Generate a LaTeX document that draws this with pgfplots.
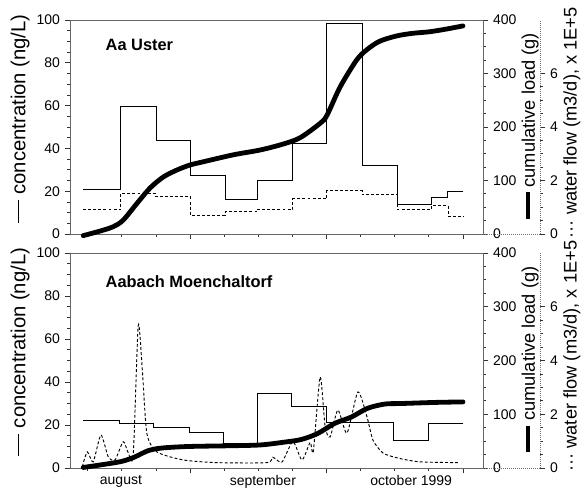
\documentclass[border=0pt]{standalone}
\usepackage{pgfplots}
\usepackage{pgfplotstable}
\pgfplotsset{compat=1.18}
\usepackage{fontspec}
\setmainfont{Liberation Sans}

% x = day counted from 1 August 1999
\pgfplotstableread{
day conc
7.5  21
15.8 59.5
23.6 43.5
31   27.5
38.7 16
45.9 25
53.6 42.5
61   98.5
68.8 32
76.5 13.6
84   17
87.7 20
91   20
}\usterconc

\pgfplotstableread{
day flow
7.5  0.9
15.8 1.52
23.4 1.4
31   0.71
38.7 0.83
45.9 0.92
53.6 1.31
61   1.62
68.8 1.46
76.5 0.9
84   1.05
87.7 0.65
91   0.65
}\usterflow

\pgfplotstableread{
day load
7.5  -3
11   5
14.1 13.6
16.3 26
19.4 58
22.2 86
25.1 106.5
28.1 119.6
31   129
33.9 135
40.5 148
46.4 157
51.4 168
55.2 180
59.6 207
61.1 222
64   275
67.6 325
69.8 344
72.6 360
76.3 370
79.8 375
83.6 378
87.3 383
91   389
}\usterload

\pgfplotstableread{
day conc
7.5  22
15.5 20.8
23   18.8
30.8 16.4
38.3 11.2
45.9 34.7
53.4 28.5
60.9 21
75.8 13
83.5 20.8
91   20.8
}\aabachconc

\pgfplotstableread{
day flow
7.3  0.05
8.4  0.6
9.7  0.23
11.4 1.23
13   0.42
14.5 0.3
16.3 0.98
17.4 0.57
18.5 0.48
19.6 5.3
20.5 3.65
21.5 1.29
23.7 0.6
29.5 0.3
37   0.2
47.9 0.2
49.2 0.4
51.2 0.22
53.6 0.98
55.6 0.3
57.4 0.95
58.1 0.62
59.6 3.39
60.7 1.53
61.8 1.16
63.5 2.16
65.5 1.3
67.9 2.83
69.9 1.9
71.2 1.04
73.4 0.56
76.7 0.37
81.5 0.23
89.9 0.2
}\aabachflow

\pgfplotstableread{
day load
7.5  1
11.5 6
15.8 12
18.7 20
21.7 32
24.6 37
30.5 40
40.6 41.5
46.6 43
51.6 48
55.4 53
59   64
62.8 83
66.5 95
70   111
73.8 119
77.5 120
84.8 122
91   123
}\aabachload

\pgfplotsset{
  panel/.style={
    scale only axis, width=309.75pt,
    xmin=4.6, xmax=95.4,
    /pgf/number format/assume math mode=true,
    tick label style={font=\fontsize{10.5}{12}\selectfont},
    label style={font=\fontsize{13.7}{16}\selectfont},
    tick align=outside,
    major tick length=4pt, minor tick length=2pt,
    axis line style={black!60, line width=0.5pt},
    tick style={black!80, line width=0.6pt},
  },
  concaxis/.style={panel,
    ymin=0, ymax=100, ytick={0,20,...,100}, minor y tick num=3,
    xtick={31,61,91}, xticklabels={,,},
    minor xtick={8.5,16,23.5,38.5,46,53.5,68.5,76,83.5},
    xtick pos=left, ytick pos=left,
    ylabel={\rule[0.3em]{1.1em}{0.7pt}\ concentration (ng/L)},
    ylabel style={at={(axis description cs:-0.121,0.54)}, anchor=center,
      font=\fontsize{15.2}{17}\selectfont},
  },
  loadaxis/.style={panel, clip=false,
    ymin=0, ymax=400, ytick={0,100,...,400}, minor y tick num=3,
    axis y line*=right, axis x line=none,
    ylabel={\rule[0.25em]{1.45em}{3pt}\ cumulative load (g)},
    ylabel style={at={(axis description cs:1.114,0.505)}, anchor=center},
  },
  flowdata/.style={panel, ymin=0, ymax=8, hide axis},
  flowaxis/.style={panel, width=42.75pt, xmin=0, xmax=1, ymin=0, ymax=8,
    axis y line*=right, axis x line*=bottom, xtick=\empty,
    ytick={0,2,4,6}, minor y tick num=3,
    axis line style={black!55, densely dotted, line width=0.5pt},
    ylabel={···\ water flow (m3/d), x 1E+5},
    ylabel style={at={(axis description cs:1.561,0.52)}, anchor=center},
  },
  conc/.style={black, line width=0.75pt, const plot},
  flow/.style={black, line width=0.7pt, dash pattern=on 2.2pt off 1.6pt},
  load/.style={black, line width=3.6pt, line cap=round, smooth, tension=0.5},
}

\begin{document}
\begin{tikzpicture}
\path[use as bounding box] (0,0) rectangle (436.5pt,-365.25pt);

% ---- top panel: Aa Uster
\begin{axis}[concaxis, height=160.5pt, at={(52.5pt,-175.5pt)}, anchor=south west]
  \addplot[conc] table[x=day, y=conc] {\usterconc};
  \node[anchor=west, font=\bfseries\fontsize{12.3}{14}\selectfont]
    at (rel axis cs:0.075,0.883) {Aa Uster};
\end{axis}
\begin{axis}[flowdata, height=160.5pt, at={(52.5pt,-175.5pt)}, anchor=south west]
  \addplot[flow, const plot] table[x=day, y=flow] {\usterflow};
\end{axis}
\begin{axis}[loadaxis, height=160.5pt, at={(52.5pt,-175.5pt)}, anchor=south west]
  \addplot[load] table[x=day, y=load] {\usterload};
\end{axis}
\begin{axis}[flowaxis, height=160.5pt, at={(362.25pt,-175.5pt)}, anchor=south west]
\end{axis}

% ---- bottom panel: Aabach Moenchaltorf
\begin{axis}[concaxis, height=161.25pt, at={(52.5pt,-351pt)}, anchor=south west,
    extra x ticks={15.8,47,79.6},
    extra x tick labels={august,september,october 1999},
    extra x tick style={major tick length=0pt,
      tick label style={yshift=-2pt}}]
  \addplot[conc] table[x=day, y=conc] {\aabachconc};
  \node[anchor=west, font=\bfseries\fontsize{12.3}{14}\selectfont]
    at (rel axis cs:0.075,0.865) {Aabach Moenchaltorf};
\end{axis}
\begin{axis}[flowdata, height=161.25pt, at={(52.5pt,-351pt)}, anchor=south west]
  \addplot[flow, smooth, tension=0.4] table[x=day, y=flow] {\aabachflow};
\end{axis}
\begin{axis}[loadaxis, height=161.25pt, at={(52.5pt,-351pt)}, anchor=south west]
  \addplot[load] table[x=day, y=load] {\aabachload};
\end{axis}
\begin{axis}[flowaxis, height=161.25pt, at={(362.25pt,-351pt)}, anchor=south west]
\end{axis}
\end{tikzpicture}
\end{document}
